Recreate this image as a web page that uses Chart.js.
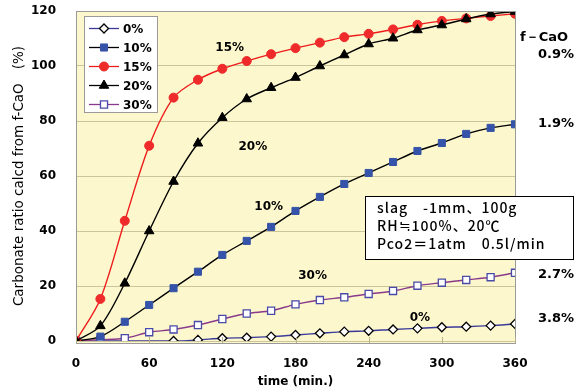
<!DOCTYPE html>
<html>
<head>
<meta charset="utf-8">
<script src="https://cdn.jsdelivr.net/npm/chart.js@4/dist/chart.umd.min.js"></script>
<style>
  html, body { margin: 0; padding: 0; background: #fff; }
  #wrap { width: 581px; height: 392px; }
</style>
</head>
<body>
<div id="wrap"><canvas id="c" width="581" height="392"></canvas></div>
<script>
// time axis (min.)
const times = [0, 20, 40, 60, 80, 100, 120, 140, 160, 180, 200, 220, 240, 260, 280, 300, 320, 340, 360];
const xTicks = [0, 60, 120, 180, 240, 300, 360];
const yTicks = [0, 20, 40, 60, 80, 100, 120];

// carbonate ratio (%) per slag f-CaO humidity series
const s0 = [0, null, null, null, 0, 0.4, 1, 1.2, 1.6, 2.2, 2.8, 3.4, 3.7, 4.2, 4.6, 5, 5.2, 5.6, 6.2];
const s10 = [0, 1.6, 7, 13.1, 19.2, 25.2, 31.3, 36.4, 41.5, 47.3, 52.4, 57.1, 61.1, 65.1, 69.1, 72, 75.3, 77.5, 78.8];
const s15 = [0, 15.3, 43.7, 71, 88.5, 95, 99, 101.8, 104.3, 106.5, 108.5, 110.5, 111.7, 113.3, 115, 116.4, 117.3, 118.2, 119];
const s20 = [0, 5.5, 21, 40, 58, 71.9, 81.2, 88, 92.1, 95.8, 100, 104, 108, 110.1, 113.1, 114.9, 117.1, 118.9, 119.8];
const s30 = [0, 0.5, 1, 3.2, 4.2, 5.8, 8, 10, 11, 13.3, 14.9, 15.9, 17.1, 18.2, 20.1, 21.2, 22.2, 23.2, 24.8];

const seriesNames = ['0%', '10%', '15%', '20%', '30%'];
// labels written next to curves: [text, min, value]
const curveLabels = [['15%', 126, 106.5], ['20%', 145, 70.5], ['10%', 158, 48.7], ['30%', 194, 23.6], ['0%', 282, 8.4]];
// f-CaO content labels at right edge: [text, value]
const fcaoLabels = [['0.9%', 104], ['1.9%', 79.2], ['2.7%', 24], ['3.8%', 8.3]];
const infoLines = ['slag　-1mm、100g', 'RH≒100%、20℃', 'Pco2＝1atm　0.5l/min'];

const toXY = arr => arr.map((v, i) => ({ x: times[i], y: v }));

const bgPlugin = {
  id: 'bg',
  beforeDraw(chart) {
    const { ctx, chartArea: a } = chart;
    ctx.save();
    ctx.fillStyle = '#fcf7cc';
    ctx.fillRect(a.left, a.top, a.right - a.left, a.bottom - a.top + 2);
    ctx.restore();
  },
  afterDraw(chart) {
    const { ctx, chartArea: a, scales } = chart;
    const xs = scales.x, ys = scales.y;
    ctx.save();
    // frame
    ctx.strokeStyle = '#9a9a9a';
    ctx.lineWidth = 1;
    ctx.strokeRect(a.left + 0.5, a.top + 0.5, a.right - a.left, a.bottom - a.top + 2);
    // small inner ticks at bottom
    ctx.strokeStyle = '#b8b08a';
    xTicks.forEach(t => {
      const px = Math.round(xs.getPixelForValue(t)) + 0.5;
      ctx.beginPath(); ctx.moveTo(px, a.bottom + 2); ctx.lineTo(px, a.bottom - 4); ctx.stroke();
    });

    // legend box
    const lx = 84, ly = 16, lw = 73, lh = 96;
    ctx.fillStyle = '#fff';
    ctx.fillRect(lx, ly, lw, lh);
    ctx.strokeStyle = '#9a9a9a';
    ctx.strokeRect(lx + 0.5, ly + 0.5, lw, lh);
    ctx.font = 'bold 12px "DejaVu Sans"';
    ctx.textBaseline = 'middle';
    chart.data.datasets.forEach((ds, i) => {
      const y = ly + 12.5 + i * 19;
      ctx.strokeStyle = ds.borderColor;
      ctx.lineWidth = 1.3;
      ctx.beginPath(); ctx.moveTo(89, y); ctx.lineTo(119, y); ctx.stroke();
      ctx.fillStyle = ds.backgroundColor;
      ctx.strokeStyle = ds.pointBorderColor;
      ctx.lineWidth = ds.pointBorderWidth;
      Chart.helpers.drawPoint(ctx, {
        pointStyle: ds.pointStyle, radius: ds.pointRadius, rotation: 0,
        borderWidth: ds.pointBorderWidth
      }, 104, y);
      ctx.fillStyle = '#000';
      ctx.textAlign = 'left';
      ctx.fillText(seriesNames[i], 123, y + 1);
    });

    // curve labels
    ctx.fillStyle = '#000';
    ctx.textAlign = 'center';
    curveLabels.forEach(([t, xv, yv]) => {
      ctx.fillText(t, xs.getPixelForValue(xv), ys.getPixelForValue(yv));
    });

    // right side f-CaO labels
    ctx.font = 'bold 13px "DejaVu Sans"';
    ctx.textAlign = 'left';
    ctx.fillText('f－CaO', a.right + 5, ys.getPixelForValue(110.5));
    ctx.textAlign = 'right';
    fcaoLabels.forEach(([t, yv]) => {
      ctx.fillText(t, 574, ys.getPixelForValue(yv));
    });

    // condition box
    const bx = 365, by = 196, bw = 208, bh = 63;
    ctx.fillStyle = '#fff';
    ctx.fillRect(bx, by, bw, bh);
    ctx.strokeStyle = '#000';
    ctx.lineWidth = 1;
    ctx.strokeRect(bx + 0.5, by + 0.5, bw, bh);
    ctx.fillStyle = '#000';
    ctx.font = '500 14px "Noto Sans CJK JP"';
    ctx.letterSpacing = '1px';
    ctx.textAlign = 'left';
    infoLines.forEach((t, i) => ctx.fillText(t, 377, by + 12 + i * 18));
    ctx.restore();
  }
};

const tickFont = { family: '"DejaVu Sans"', size: 12, weight: 'bold' };

new Chart(document.getElementById('c'), {
  type: 'line',
  data: {
    datasets: [
      { label: '0%', data: toXY(s0), borderColor: '#3a3a9a', backgroundColor: '#fff',
        pointStyle: 'rectRot', pointRadius: 4.5, pointBorderColor: '#000', pointBorderWidth: 1.3, order: 5 },
      { label: '10%', data: toXY(s10), borderColor: '#000', backgroundColor: '#3553a8',
        pointStyle: 'rect', pointRadius: 5, pointBorderColor: '#3553a8', pointBorderWidth: 1, order: 3 },
      { label: '15%', data: toXY(s15), borderColor: '#ee1c1c', backgroundColor: '#ee2a2a',
        pointStyle: 'circle', pointRadius: 4.5, pointBorderColor: '#ee2a2a', pointBorderWidth: 1, order: 2 },
      { label: '20%', data: toXY(s20), borderColor: '#000', backgroundColor: '#000',
        pointStyle: 'triangle', pointRadius: 5.5, pointBorderColor: '#000', pointBorderWidth: 1, order: 1 },
      { label: '30%', data: toXY(s30), borderColor: '#8a3a8a', backgroundColor: '#fff',
        pointStyle: 'rect', pointRadius: 5, pointBorderColor: '#4a4aa8', pointBorderWidth: 1.3, order: 4 }
    ]
  },
  options: {
    responsive: false,
    animation: false,
    spanGaps: true,
    layout: { padding: { top: 11, right: 66, left: 0, bottom: 0 } },
    elements: { line: { borderWidth: 1.4, tension: 0.3, fill: false } },
    plugins: { legend: { display: false }, tooltip: { enabled: false } },
    scales: {
      x: {
        type: 'linear', min: 0, max: 360,
        afterBuildTicks: s => { s.ticks = xTicks.map(v => ({ value: v })); },
        afterFit: s => { s.height = 51; s.paddingLeft = 0; s.paddingRight = 0; },
        grid: { display: false },
        border: { display: false },
        ticks: { font: tickFont, color: '#000', padding: 8, maxRotation: 0 },
        title: { display: true, text: 'time (min.)', font: { family: '"DejaVu Sans"', size: 12, weight: 'bold' },
                 color: '#000', padding: { top: 0, bottom: 3 } }
      },
      y: {
        min: 0, max: 120,
        afterBuildTicks: s => { s.ticks = yTicks.map(v => ({ value: v })); },
        afterFit: s => { s.width = 76; s.paddingTop = 0; s.paddingBottom = 0; },
        grid: { color: '#cdc59a', lineWidth: 1, drawTicks: false },
        border: { display: false },
        ticks: { font: tickFont, color: '#000', padding: 20 },
        title: { display: true, text: 'Carbonate ratio calcd from f-CaO　(%)',
                 font: { family: '"DejaVu Sans"', size: 13.5 }, color: '#000', padding: { top: 11 } }
      }
    }
  },
  plugins: [bgPlugin]
});
</script>
</body>
</html>
